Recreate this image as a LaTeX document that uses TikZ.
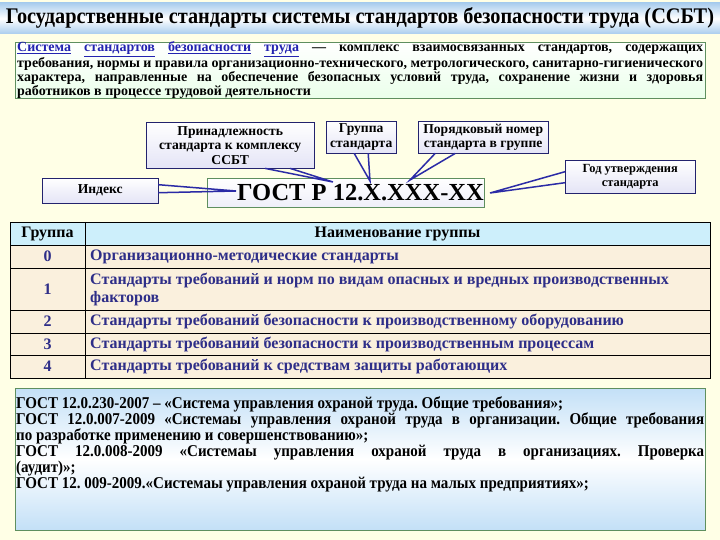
\documentclass[tikz,border=0pt]{standalone}
\usepackage{fontspec}
\setmainfont{Liberation Serif}
\newfontfamily\narrowserif[FakeStretch=0.91]{Liberation Serif}
\frenchspacing
\definecolor{bgcream}{HTML}{FFFFE6}
\definecolor{bandblue}{HTML}{A9CDEE}
\definecolor{boxgreen}{HTML}{5F8F5F}
\definecolor{navyline}{HTML}{23236E}
\definecolor{ptrblue}{HTML}{2B2BA6}
\definecolor{lavbox}{HTML}{E4E4F6}
\definecolor{rowfill}{HTML}{FAF0DD}
\definecolor{headfill}{HTML}{CDEFFB}
\definecolor{tabtext}{HTML}{2E2E88}
\definecolor{linkblue}{HTML}{2323B0}
\definecolor{skyfill}{HTML}{C3E0F7}

\tikzset{
  callbox/.style={draw=navyline, top color=white, bottom color=lavbox, align=center,
    inner sep=0pt, font=\bfseries\fontsize{13.6}{14.5}\selectfont},
  pointer/.style={draw=ptrblue, line width=1.5pt},
  cell/.style={draw=black, fill=rowfill},
  celltext/.style={text=tabtext, font=\bfseries\fontsize{16}{18}\selectfont},
}

\begin{document}
\begin{tikzpicture}[x=1pt,y=-1pt]
\fill [bgcream] (0,0) rectangle (720,540);
\shade [top color=bandblue, bottom color=bandblue, middle color=white] (0,3) rectangle (720,34);
\node [font=\narrowserif\bfseries\fontsize{22.3}{24}\selectfont] (title) at (360,18)
  {Государственные стандарты системы стандартов безопасности труда (ССБТ)};

\node [draw=boxgreen, top color=white, bottom color=green!8!white, minimum width=690pt,
  minimum height=56pt, anchor=north west] (defbox) at (15,42) {};
\node [text width=686pt, align=justify, inner sep=0pt, font=\bfseries\fontsize{14}{14}\selectfont] (deftext) at (defbox.center)
  {{\color{linkblue}\underline{Система} \underline{стандартов} \underline{безопасности} \underline{труда}} — комплекс взаимосвязанных стандартов, содержащих\linebreak
   требования, нормы и правила организационно-технического, метрологического, санитарно-гигиенического\linebreak
   характера, направленные на обеспечение безопасных условий труда, сохранение жизни и здоровья\linebreak
   работников в процессе трудовой деятельности};

\node [callbox, minimum width=168pt, minimum height=46pt, anchor=north west] (own) at (146,122)
  {Принадлежность\\стандарта к комплексу\\ССБТ};
\node [callbox, minimum width=70pt, minimum height=32pt, anchor=north west] (grp) at (326,121)
  {Группа\\стандарта};
\node [callbox, minimum width=130pt, minimum height=32pt, anchor=north west] (num) at (418,121)
  {Порядковый номер\\стандарта в группе};
\node [callbox, minimum width=116pt, minimum height=25pt, anchor=north west] (idx) at (42,178)
  {Индекс};
\node [callbox, minimum width=130pt, minimum height=33pt, anchor=north west,
  font=\bfseries\fontsize{12.4}{14}\selectfont] (year) at (565,160)
  {Год утверждения\\стандарта};
\node [draw=boxgreen, top color=white, bottom color=lavbox!60!white, minimum width=276pt, minimum height=29pt,
  anchor=north west, inner sep=0pt, font=\bfseries\fontsize{24.5}{26}\selectfont] (gost) at (207,178)
  {\hspace*{30pt}ГОСТ Р 12.Х.ХХХ-ХХ};

\coordinate (tidx) at (236,191);
\coordinate (town) at (333,182);
\coordinate (tgrp) at (370,181);
\coordinate (tnum) at (410,180);
\coordinate (tyear) at (490,193);
\draw [pointer] ([yshift=6pt]idx.east) -- (tidx) -- ([yshift=-2pt]idx.east);
\draw [pointer] ([xshift=35pt]own.south) -- (town) -- ([xshift=60pt]own.south);
\draw [pointer] ([xshift=-7pt]grp.south) -- (tgrp) -- ([xshift=7pt]grp.south);
\draw [pointer] ([xshift=-48pt]num.south) -- (tnum) -- ([xshift=-28pt]num.south);
\draw [pointer] ([yshift=5pt]year.west) -- (tyear) -- ([yshift=-6pt]year.west);

\draw [fill=headfill] (10,222) rectangle (710,245);
\draw (85,222) -- (85,245);
\node [font=\bfseries\fontsize{16}{18}\selectfont] (hgrp) at (47.5,234) {Группа};
\node [font=\bfseries\fontsize{16}{18}\selectfont] (hname) at (397.5,234) {Наименование группы};
\foreach \g/\ya/\yb/\name in {0/245/268/{Организационно-методические стандарты},
    1/268/310/{Стандарты требований и норм по видам опасных и вредных производственных\\факторов},
    2/310/333/{Стандарты требований безопасности к производственному оборудованию},
    3/333/355/{Стандарты требований безопасности к производственным процессам},
    4/355/378/{Стандарты требований к средствам защиты работающих}} {
  \draw [cell] (10,\ya) rectangle (85,\yb);
  \draw [cell] (85,\ya) rectangle (710,\yb);
  \node [celltext] (g\g) at (47.5,{(\ya+\yb)/2}) {\g};
  \node [celltext, anchor=west, align=left, inner sep=0pt] (n\g) at (90,{(\ya+\yb)/2}) {\name};
}

\shade [draw=boxgreen, top color=skyfill, bottom color=skyfill, middle color=white] (15,388) rectangle (705,530);
\node [text width=688pt, align=justify, inner sep=0pt, anchor=north west,
  font=\narrowserif\bfseries\fontsize{16.5}{16}\selectfont] (gostlist) at (16,396)
  {ГОСТ 12.0.230-2007 – «Система управления охраной труда. Общие требования»;\\
   ГОСТ 12.0.007-2009 «Системаы управления охраной труда в организации. Общие требования\linebreak
   по разработке применению и совершенствованию»;\\
   ГОСТ 12.0.008-2009 «Системаы управления охраной труда в организациях. Проверка\linebreak
   (аудит)»;\\
   ГОСТ 12. 009-2009.«Системаы управления охраной труда на малых предприятиях»;};
\end{tikzpicture}
\end{document}
